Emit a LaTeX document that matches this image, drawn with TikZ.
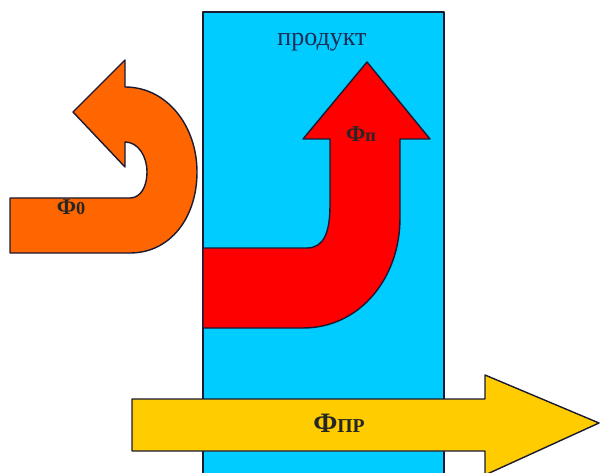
\documentclass[tikz,border=0pt]{standalone}
\usepackage{fontspec}
\setmainfont{Liberation Serif}
\usepackage{tikz}

\definecolor{wallblue}{HTML}{00CCFF}
\definecolor{flowred}{HTML}{FF0000}
\definecolor{floworange}{HTML}{FF6600}
\definecolor{flowyellow}{HTML}{FFCC00}
\definecolor{edgedark}{HTML}{1A1A33}
\definecolor{textnavy}{HTML}{1C2C55}

\begin{document}
\begin{tikzpicture}[
  x=0.025cm, y=-0.025cm,
  blockarrow/.style={draw=edgedark, line width=1pt, line join=round},
  flowlabel/.style={font=\fontsize{16}{18}\selectfont\bfseries, text=black!85, inner sep=0pt}
]
\useasboundingbox (0,0) rectangle (600,473);
\clip (0,0) rectangle (600,473);

% system boundary
\fill[white] (0,0) rectangle (600,473);
\draw[blockarrow, fill=wallblue] (203,12) rectangle (444,490);

% product flow
\draw[blockarrow, fill=flowred] (203,248) -- (307,248)
  .. controls (324,248) and (330,232) .. (330,205) -- (330,139)
  -- (303,139) -- (367,62) -- (430,139) -- (400,139) -- (400,218)
  .. controls (400,278) and (360,328) .. (303,328) -- (203,328) -- cycle;

% returned flow
\draw[blockarrow, fill=floworange] (10,198) -- (130,198)
  .. controls (141,198) and (147,186) .. (147,172)
  .. controls (147,156) and (138,142) .. (125,142)
  -- (125,167) -- (73,112) -- (125,60) -- (125,87)
  .. controls (167,87) and (197,126) .. (197,172)
  .. controls (197,218) and (170,253) .. (130,253)
  -- (10,253) -- cycle;

% passing flow
\draw[blockarrow, fill=flowyellow] (132,399) -- (485,399) -- (485,375)
  -- (599,423) -- (485,475) -- (485,451) -- (132,451) -- cycle;

% labels
\node[font=\fontsize{18.5}{20}\selectfont, text=textnavy] (prod) at (322,42) {продукт};
\node[flowlabel] (phin) at (361,134) {Ф{\fontsize{13}{14}\selectfont п}};
\node[flowlabel] (phio) at (71,207) {Ф{\fontsize{13}{14}\selectfont 0}};
\node[flowlabel, font=\fontsize{20}{22}\selectfont\bfseries] (phipr) at (339,423) {Ф{\fontsize{14}{15}\selectfont ПР}};
\end{tikzpicture}
\end{document}
